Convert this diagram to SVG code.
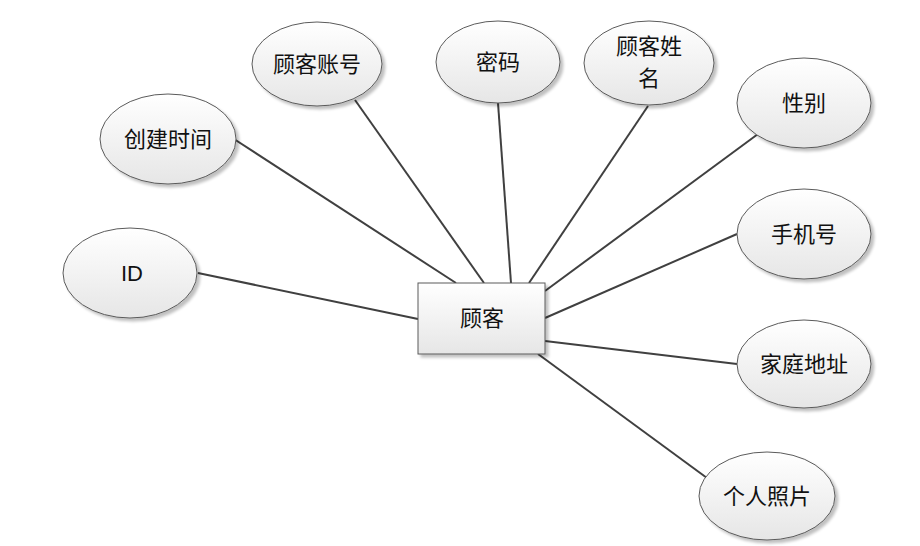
<svg xmlns="http://www.w3.org/2000/svg" width="920" height="546" viewBox="0 0 920 546">
<defs>
<linearGradient id="g" x1="0" y1="0" x2="0" y2="1">
<stop offset="0" stop-color="#ffffff"/>
<stop offset="1" stop-color="#e6e6e6"/>
</linearGradient>
<filter id="sh" x="-10%" y="-10%" width="130%" height="130%">
<feGaussianBlur in="SourceAlpha" stdDeviation="1.5"/>
<feOffset dx="3" dy="3" result="b"/>
<feComponentTransfer><feFuncA type="linear" slope="0.25"/></feComponentTransfer>
<feMerge><feMergeNode/><feMergeNode in="SourceGraphic"/></feMerge>
</filter>
</defs>
<style>
.e{fill:url(#g);stroke:#5a5a5a;stroke-width:1;filter:url(#sh)}
.r{fill:url(#g);stroke:#5a5a5a;stroke-width:1;filter:url(#sh)}
.t{font-family:"Noto Sans CJK SC","Liberation Sans",sans-serif;font-size:22px;fill:#111;text-anchor:middle}
.c line{stroke:#404040;stroke-width:2}
</style>
<rect width="920" height="546" fill="#fff"/>
<g class="c" id="connectors">
<line x1="198" y1="273" x2="418" y2="319"/>
<line x1="234" y1="139" x2="456" y2="283"/>
<line x1="355" y1="100" x2="484" y2="283"/>
<line x1="498" y1="103" x2="511" y2="283"/>
<line x1="648" y1="106" x2="529" y2="283"/>
<line x1="758" y1="134" x2="545" y2="291"/>
<line x1="737" y1="234" x2="545" y2="318"/>
<line x1="737" y1="364" x2="545" y2="341"/>
<line x1="707" y1="478" x2="538" y2="354"/>
</g>
<g id="customer"><rect class="r" x="418" y="283" width="127" height="71"/><text class="t" x="482" y="326">顾客</text></g>
<g id="id"><ellipse class="e" cx="130" cy="273" rx="67" ry="45"/><text class="t" x="132" y="281" style="font-family:'Liberation Sans',sans-serif">ID</text></g>
<g id="create-time"><ellipse class="e" cx="168" cy="139" rx="68" ry="45"/><text class="t" x="168" y="147">创建时间</text></g>
<g id="account"><ellipse class="e" cx="317" cy="64" rx="65" ry="42"/><text class="t" x="317" y="72">顾客账号</text></g>
<g id="password"><ellipse class="e" cx="498" cy="62" rx="62" ry="41"/><text class="t" x="498" y="70">密码</text></g>
<g id="name"><ellipse class="e" cx="649" cy="63" rx="65" ry="42"/><text class="t" x="649" y="54">顾客姓</text><text class="t" x="649" y="86">名</text></g>
<g id="gender"><ellipse class="e" cx="804" cy="103" rx="67" ry="45"/><text class="t" x="804" y="111">性别</text></g>
<g id="phone"><ellipse class="e" cx="804" cy="234" rx="67" ry="45"/><text class="t" x="804" y="242">手机号</text></g>
<g id="address"><ellipse class="e" cx="804" cy="364" rx="67" ry="44"/><text class="t" x="804" y="372">家庭地址</text></g>
<g id="photo"><ellipse class="e" cx="767" cy="496" rx="68" ry="44"/><text class="t" x="767" y="504">个人照片</text></g>
</svg>
